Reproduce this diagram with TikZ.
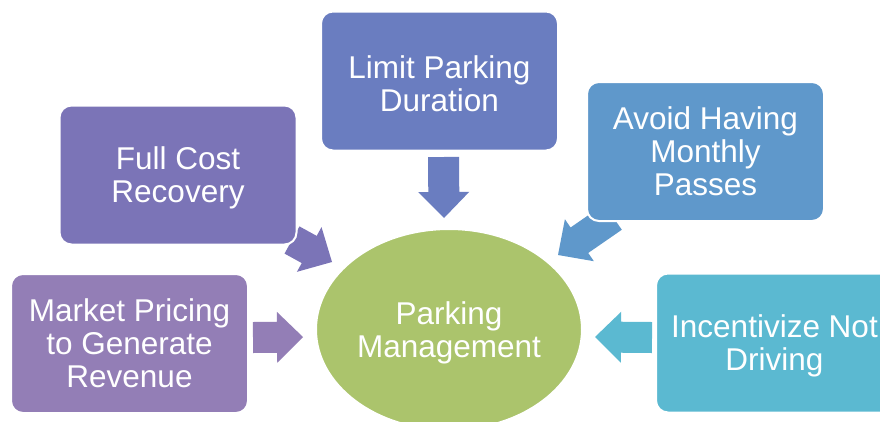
\documentclass[tikz,border=0pt]{standalone}
\usepackage{fontspec}
\setmainfont{Liberation Sans}
\usetikzlibrary{calc,shapes.geometric}
\definecolor{cTop}{HTML}{6A7DC0}
\definecolor{cFull}{HTML}{7B74B7}
\definecolor{cAvoid}{HTML}{5F98CB}
\definecolor{cMarket}{HTML}{937EB6}
\definecolor{cInc}{HTML}{5BB9D1}
\definecolor{cCore}{HTML}{ABC46C}
\newcommand\blockarr[4]{% colour, tail, tip, base name
  \coordinate (#4) at ($(#3)!26pt!(#2)$);
  \fill[#1] ($(#2)!15.5pt!90:(#3)$) -- ($(#4)!15.5pt!90:(#3)$) -- ($(#4)!25.5pt!90:(#3)$)
    -- (#3) -- ($(#4)!25.5pt!-90:(#3)$) -- ($(#4)!15.5pt!-90:(#3)$)
    -- ($(#2)!15.5pt!-90:(#3)$) -- cycle;}
\newcommand\topstrut{\rule{0pt}{29pt}}
\tikzset{
  boxnode/.style={rectangle, rounded corners=12pt, minimum width=237pt, minimum height=139pt,
    draw=white, line width=2pt, text=white, align=center, inner sep=0pt,
    font=\fontsize{31.5}{33}\selectfont},
  corenode/.style={ellipse, minimum width=266pt, minimum height=201pt, inner sep=0pt,
    draw=white, line width=2pt, fill=cCore, text=white, align=center,
    font=\fontsize{31.5}{33}\selectfont}
}
\begin{document}
\begin{tikzpicture}[x=1pt,y=-1pt]
\clip (0,0) rectangle (880,421);
\fill[white] (0,0) rectangle (880,421);
% arrow ends
\coordinate (t1) at (443.5,157); \coordinate (p1) at (444,218);
\coordinate (t2) at (292,240);   \coordinate (p2) at (332,262);
\coordinate (t3) at (613,217);   \coordinate (p3) at (558,255);
\coordinate (t4) at (253,337.5); \coordinate (p4) at (303,337);
\coordinate (t5) at (652,337.5); \coordinate (p5) at (595,337);
\blockarr{cTop}{t1}{p1}{b1}
\blockarr{cFull}{t2}{p2}{b2}
\blockarr{cAvoid}{t3}{p3}{b3}
\blockarr{cMarket}{t4}{p4}{b4}
\blockarr{cInc}{t5}{p5}{b5}
% nodes
\node[boxnode, fill=cTop] (limit) at (439.5,81) {\topstrut Limit Parking\\Duration};
\node[boxnode, fill=cFull] (full) at (178,175) {\topstrut Full Cost\\Recovery};
\node[boxnode, fill=cAvoid] (avoid) at (705.5,151.5) {Avoid Having\\Monthly\\Passes};
\node[boxnode, fill=cMarket] (market) at (129.5,343.5) {Market Pricing\\to Generate\\Revenue};
\node[boxnode, fill=cInc] (inc) at (774.5,343) {\topstrut Incentivize Not\\Driving};
\node[corenode] (core) at (449,329.5) {\topstrut Parking\\Management};
\end{tikzpicture}
\end{document}
